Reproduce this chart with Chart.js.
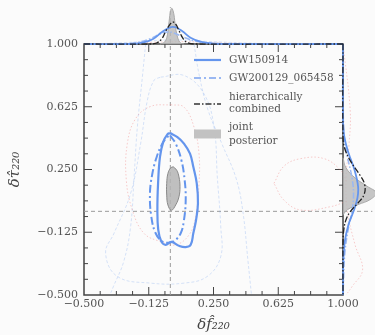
<!DOCTYPE html>
<html>
<head>
<meta charset="utf-8">
<script src="https://cdn.jsdelivr.net/npm/chart.js@4.4.1/dist/chart.umd.min.js"></script>
<style>
  html,body{margin:0;padding:0;background:#fbfbfb}
  canvas{display:block}
</style>
</head>
<body>
<canvas id="c" width="375" height="335"></canvas>
<script>
// ===== DATA =====
const tickVals = [-0.5, -0.125, 0.25, 0.625, 1.0];
const minorStep = 0.09375;

// 90% contours (main panel)
const gw150914X = [-0.002,0.041,0.079,0.114,0.133,0.153,0.160,0.149,0.133,0.118,0.089,0.050,0.006,-0.027,-0.052,-0.070,-0.075,-0.071,-0.060,-0.041,-0.017,-0.002];
const gw150914Y = [0.468,0.444,0.405,0.345,0.266,0.167,0.048,-0.052,-0.131,-0.200,-0.214,-0.206,-0.183,-0.200,-0.181,-0.111,0.008,0.167,0.325,0.415,0.460,0.468];
const gw200129X = [-0.002,0.031,0.064,0.083,0.089,0.079,0.060,0.025,-0.008,-0.046,-0.085,-0.110,-0.118,-0.104,-0.079,-0.046,-0.021,-0.002];
const gw200129Y = [0.454,0.405,0.306,0.187,0.067,-0.052,-0.131,-0.175,-0.187,-0.181,-0.131,-0.032,0.107,0.226,0.325,0.405,0.440,0.454];
const jointX = [0.017,0.037,0.050,0.056,0.050,0.031,0.006,-0.014,-0.021,-0.021,-0.014,0.002,0.017];
const jointY = [0.266,0.246,0.206,0.147,0.087,0.038,0.006,0.038,0.097,0.167,0.226,0.260,0.266];

// faint contours of the other events
const faintRed1X = [0.002,0.079,0.137,0.166,0.166,0.147,0.108,0.031,-0.056,-0.153,-0.220,-0.255,-0.249,-0.201,-0.114,0.002];
const faintRed1Y = [0.637,0.623,0.504,0.345,0.167,-0.032,-0.141,-0.200,-0.181,-0.131,0.008,0.187,0.405,0.554,0.627,0.637];
const faintRed2X = [0.600,0.658,0.755,0.890,0.986,1.02];
const faintRed2Y = [0.167,0.270,0.315,0.315,0.246,0.18];
const faintRed3X = [1.02,0.929,0.755,0.658,0.600];
const faintRed3Y = [0.06,0.028,0.008,0.067,0.167];
const faintBlue1X = [-0.056,0.079,0.195,0.253,0.272,0.292,0.292,0.214,0.079,-0.114,-0.307,-0.375,-0.326,-0.230,-0.172,-0.133,-0.095,-0.056];
const faintBlue1Y = [0.802,0.812,0.702,0.504,0.206,-0.091,-0.270,-0.389,-0.429,-0.429,-0.389,-0.250,-0.131,0.107,0.405,0.663,0.782,0.802];
const faintBlue2X = [-0.143,-0.162,-0.191,-0.210,-0.230,-0.270,-0.330,-0.350];
const faintBlue2Y = [1.0,0.802,0.504,0.206,-0.091,-0.300,-0.450,-0.500];
const faintBlue3X = [0.137,0.170,0.220,0.300,0.380,0.420,0.450,0.470];
const faintBlue3Y = [1.0,0.800,0.600,0.400,0.200,0.0,-0.300,-0.500];

// top marginal (density vs delta f)
const topJointX = [-0.06,-0.035,-0.02,-0.01,0.0,0.008,0.02,0.03,0.045,0.06,0.08];
const topJointD = [0,0.05,0.2,0.55,0.95,1.07,0.9,0.5,0.15,0.03,0];
const topHierX = [-0.5,-0.12,-0.08,-0.05,-0.025,0.0,0.012,0.03,0.05,0.075,0.1,0.14,1.0];
const topHierD = [0,0,0.03,0.15,0.4,0.6,0.66,0.6,0.4,0.15,0.04,0,0];
const topGw1X = [-0.5,-0.25,-0.16,-0.1,-0.05,0,0.03,0.07,0.12,0.18,0.25,0.4,1.0];
const topGw1D = [0,0,0.04,0.15,0.35,0.5,0.5,0.38,0.18,0.06,0.01,0,0];
const topGw2X = [-0.5,-0.3,-0.2,-0.12,-0.06,-0.02,0.02,0.08,0.15,0.25,0.4,1.0];
const topGw2D = [0,0,0.04,0.15,0.3,0.36,0.33,0.2,0.08,0.02,0,0];
const topFaintBX = [-0.5,-0.4,-0.2,0,0.2,0.5,0.8,1.0];
const topFaintBD = [0,0.01,0.06,0.12,0.08,0.02,0,0];
const topFaintRX = [-0.5,-0.3,-0.1,0.1,0.3,0.6,1.0];
const topFaintRD = [0,0.01,0.05,0.07,0.03,0.01,0];

// right marginal (density vs delta tau)
const rightJointY = [0.32,0.26,0.2,0.15,0.11,0.07,0.04,0.01,-0.02];
const rightJointD = [0,0.1,0.4,0.8,1.1,0.9,0.5,0.15,0];
const rightHierY = [1.0,0.45,0.38,0.3,0.22,0.16,0.1,0.05,0.0,-0.05,-0.12,-0.2,-0.5];
const rightHierD = [0,0,0.05,0.25,0.55,0.72,0.7,0.5,0.25,0.1,0.02,0,0];
const rightGw1Y = [1.0,0.55,0.45,0.35,0.25,0.15,0.08,0.0,-0.08,-0.18,-0.3,-0.5];
const rightGw1D = [0,0,0.04,0.18,0.38,0.5,0.48,0.35,0.18,0.06,0.01,0];
const rightGw2Y = [1.0,0.5,0.35,0.2,0.1,0,-0.1,-0.25,-0.45,-0.5];
const rightGw2D = [0,0.02,0.12,0.3,0.35,0.3,0.18,0.06,0.01,0];
const rightFaintRY = [1.0,0.6,0.4,0.2,0,-0.2,-0.35,-0.45,-0.5];
const rightFaintRD = [0,0.24,0.2,0.1,0.15,0.4,0.65,0.3,0.1];

// reference lines (GR value)
const refVX = [0,0], refVY = [-0.5,1.22];
const refHX = [-0.5,1.17], refHY = [0,0];

const legendLabels = [['GW150914'],['GW200129_065458'],['hierarchically','combined'],['joint','posterior']];

// ===== STYLES =====
const BLUE = '#6495ed';
const FAINT_B = 'rgba(100,149,237,0.32)';
const FAINT_R = 'rgba(240,128,128,0.5)';
const SERIF = '"DejaVu Serif", serif';

function ln(xs, ys, o){
  return Object.assign({
    data: xs.map((x,i)=>({x, y: ys[i]})),
    showLine:true, pointRadius:0, fill:false, tension:0.4, borderWidth:1
  }, o);
}

const datasets = [
  ln(refVX, refVY, {borderColor:'#9a9a9a', borderDash:[4,3], tension:0, order:10}),
  ln(refHX, refHY, {borderColor:'#9a9a9a', borderDash:[4,3], tension:0, order:10}),

  ln(faintRed1X, faintRed1Y, {borderColor:FAINT_R, borderWidth:0.8, borderDash:[1.5,2], order:8}),
  ln(faintRed2X, faintRed2Y, {borderColor:FAINT_R, borderWidth:0.8, borderDash:[1.5,2], order:8}),
  ln(faintRed3X, faintRed3Y, {borderColor:FAINT_R, borderWidth:0.8, borderDash:[1.5,2], order:8}),
  ln(faintBlue1X, faintBlue1Y, {borderColor:FAINT_B, borderWidth:0.8, borderDash:[3,2], order:8}),
  ln(faintBlue2X, faintBlue2Y, {borderColor:FAINT_B, borderWidth:0.8, borderDash:[3,2], order:8}),
  ln(faintBlue3X, faintBlue3Y, {borderColor:FAINT_B, borderWidth:0.8, borderDash:[3,2], order:8}),

  ln(gw150914X, gw150914Y, {borderColor:BLUE, borderWidth:2.2, order:2}),
  ln(gw200129X, gw200129Y, {borderColor:BLUE, borderWidth:2, borderDash:[8,3,2,3], order:3}),
  ln(jointX, jointY, {borderColor:'#8a8a8a', backgroundColor:'rgba(180,180,180,0.85)', fill:'shape', order:4}),

  // top marginal
  ln(topFaintBX, topFaintBD, {yAxisID:'yTop', borderColor:FAINT_B, borderWidth:0.8, borderDash:[3,2], order:7}),
  ln(topFaintRX, topFaintRD, {yAxisID:'yTop', borderColor:FAINT_R, borderWidth:0.8, borderDash:[1.5,2], order:7}),
  ln(topJointX, topJointD, {yAxisID:'yTop', borderColor:'#aaa', backgroundColor:'rgba(185,185,185,0.8)', fill:'shape', order:6}),
  ln(topGw2X, topGw2D, {yAxisID:'yTop', borderColor:'#9ab8f2', borderWidth:1.5, borderDash:[6,2,1.5,2], order:3}),
  ln(topGw1X, topGw1D, {yAxisID:'yTop', borderColor:BLUE, borderWidth:1.8, order:2}),
  ln(topHierX, topHierD, {yAxisID:'yTop', borderColor:'#222', borderWidth:1.3, borderDash:[6,2,1.5,2], order:1}),

  // right marginal
  ln(rightFaintRD, rightFaintRY, {xAxisID:'xR', borderColor:FAINT_R, borderWidth:0.8, borderDash:[1.5,2], order:7}),
  ln(rightJointD, rightJointY, {xAxisID:'xR', borderColor:'#aaa', backgroundColor:'rgba(185,185,185,0.8)', fill:'shape', order:6}),
  ln(rightGw2D, rightGw2Y, {xAxisID:'xR', borderColor:'#9ab8f2', borderWidth:1.5, borderDash:[6,2,1.5,2], order:3}),
  ln(rightGw1D, rightGw1Y, {xAxisID:'xR', borderColor:BLUE, borderWidth:1.8, order:2}),
  ln(rightHierD, rightHierY, {xAxisID:'xR', borderColor:'#222', borderWidth:1.3, borderDash:[6,2,1.5,2], order:1})
];

// ===== PLUGINS =====
function fmt(v){ return v.toFixed(3).replace('-', '\u2212'); }

const bg = {
  id:'bg',
  beforeDraw(c){ const ctx=c.ctx; ctx.save(); ctx.fillStyle='#fbfbfb'; ctx.fillRect(0,0,c.width,c.height); ctx.restore(); }
};

const frame = {
  id:'frame',
  beforeDatasetsDraw(c){
    const {ctx, scales:{x,y}} = c;
    const L=x.getPixelForValue(-0.5), R=x.getPixelForValue(1), T=y.getPixelForValue(1), B=y.getPixelForValue(-0.5);
    ctx.save();
    ctx.strokeStyle='#444'; ctx.lineWidth=1.5;
    ctx.strokeRect(L,T,R-L,B-T);
    ctx.lineWidth=1;
    for(let i=1;i<16;i++){
      const v=-0.5+i*minorStep, len=i%4===0?8:4;
      const px=x.getPixelForValue(v), py=y.getPixelForValue(v);
      ctx.beginPath();
      ctx.moveTo(px,B); ctx.lineTo(px,B-len);
      ctx.moveTo(px,T); ctx.lineTo(px,T+len);
      ctx.moveTo(L,py); ctx.lineTo(L+len,py);
      ctx.moveTo(R,py); ctx.lineTo(R-len,py);
      ctx.stroke();
    }
    ctx.restore();
  }
};

const deco = {
  id:'deco',
  afterDraw(c){
    const {ctx, scales:{x,y}} = c;
    const L=x.getPixelForValue(-0.5), R=x.getPixelForValue(1), T=y.getPixelForValue(1), B=y.getPixelForValue(-0.5);
    ctx.save();
    // axis titles
    ctx.fillStyle='#444';
    ctx.font='italic 15px '+SERIF;
    ctx.textAlign='center'; ctx.textBaseline='middle';
    ctx.fillText('\u03b4f\u0302\u2082\u2082\u2080', (L+R)/2, 325);
    ctx.translate(15, (T+B)/2);
    ctx.rotate(-Math.PI/2);
    ctx.fillText('\u03b4\u03c4\u0302\u2082\u2082\u2080', 0, 0);
    ctx.restore();

    // legend
    const sx0=L+110, sx1=L+137, tx=L+145;
    const rows=[[T+16],[T+34],[T+53,T+65],[T+83,T+97]];
    const samples=[T+16,T+34,T+60,T+90];
    const styles=[
      {c:BLUE,w:2.2,d:[]},
      {c:'#9ab8f2',w:2,d:[7,3,2,3]},
      {c:'#333',w:1.3,d:[6,2,1.5,2]},
      null
    ];
    ctx.save();
    ctx.font='10.5px '+SERIF;
    ctx.fillStyle='#555';
    ctx.textAlign='left'; ctx.textBaseline='middle';
    legendLabels.forEach((lab,i)=>{
      const s=styles[i];
      if(s){
        ctx.strokeStyle=s.c; ctx.lineWidth=s.w; ctx.setLineDash(s.d);
        ctx.beginPath(); ctx.moveTo(sx0,samples[i]); ctx.lineTo(sx1,samples[i]); ctx.stroke();
      } else {
        ctx.setLineDash([]);
        ctx.fillStyle='#c2c2c2'; ctx.fillRect(sx0,samples[i]-4.5,sx1-sx0,9);
        ctx.fillStyle='#555';
      }
      lab.forEach((t,j)=>ctx.fillText(t, tx, rows[i][j]));
    });
    ctx.restore();
  }
};

// ===== CHART =====
const tickFont = {family:'DejaVu Serif', size:11};
new Chart(document.getElementById('c').getContext('2d'), {
  type:'scatter',
  data:{datasets},
  options:{
    responsive:false, animation:false,
    layout:{padding:0},
    plugins:{legend:{display:false}, tooltip:{enabled:false}},
    scales:{
      x:{
        type:'linear', min:-0.5, max:1.1853,
        afterBuildTicks:s=>{ s.ticks=tickVals.map(v=>({value:v})); },
        afterFit:s=>{ s.height=40; s.paddingLeft=0; s.paddingRight=0; },
        ticks:{callback:v=>fmt(v), color:'#555', font:tickFont, padding:3, maxRotation:0, autoSkip:false},
        grid:{display:false, drawTicks:false}, border:{display:false}
      },
      y:{
        type:'linear', min:-0.5, max:1.2629,
        afterBuildTicks:s=>{ s.ticks=tickVals.map(v=>({value:v})); },
        afterFit:s=>{ s.width=84; s.paddingTop=0; s.paddingBottom=0; },
        ticks:{callback:v=>fmt(v), color:'#555', font:tickFont, padding:6, autoSkip:false},
        grid:{display:false, drawTicks:false}, border:{display:false}
      },
      yTop:{type:'linear', display:false, min:-7.4925, max:1.3134},
      xR:{type:'linear', display:false, min:-8.605, max:1.063}
    }
  },
  plugins:[bg, frame, deco]
});
</script>
</body>
</html>
